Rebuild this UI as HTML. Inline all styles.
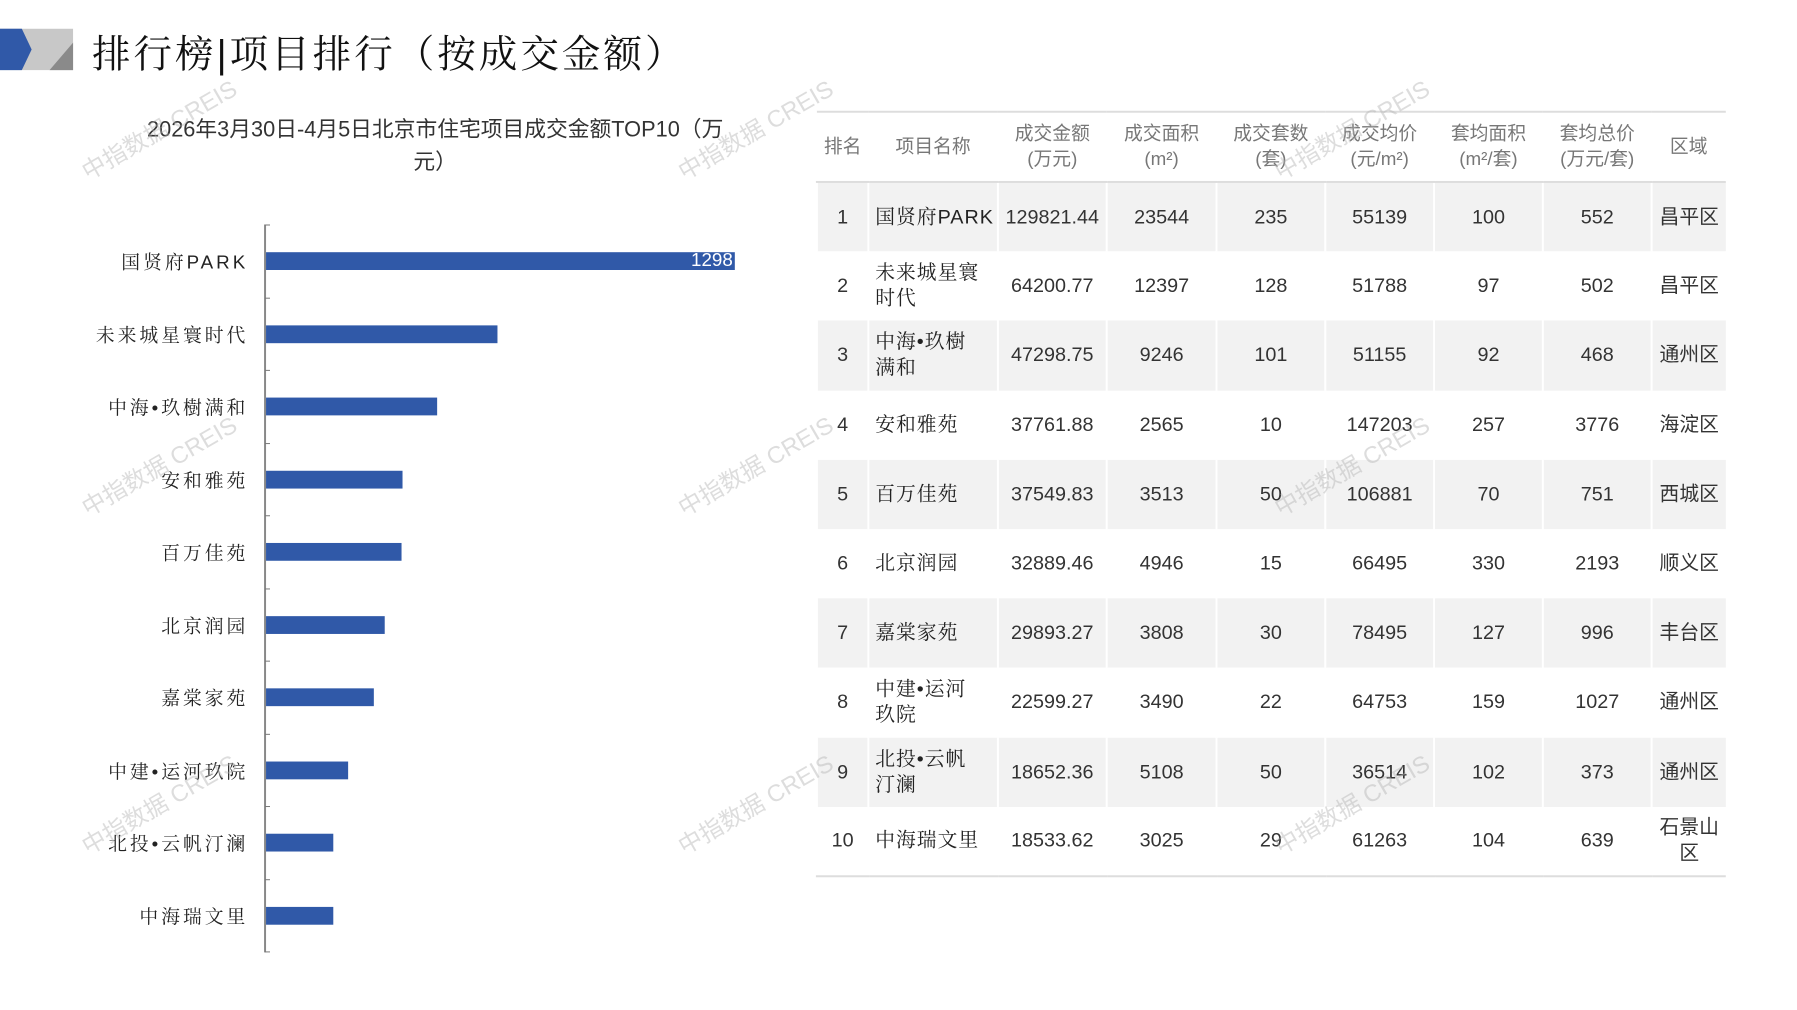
<!DOCTYPE html>
<html><head><meta charset="utf-8"><style>
*{margin:0;padding:0;box-sizing:border-box}
body{width:1797px;height:1010px;background:#fff;position:relative;overflow:hidden;font-family:"Liberation Sans","Noto Sans CJK SC",sans-serif;color:#222}
#w{position:absolute;left:0;top:0;width:1817px;height:1021px;transform:scale(0.989);transform-origin:0 0}
.abs{position:absolute}
.title{left:93px;top:24px;font-size:39px;letter-spacing:3px;color:#111;white-space:nowrap;font-family:"Liberation Sans","Noto Serif CJK SC",serif}
.ct{left:80px;width:720px;top:114px;text-align:center;font-size:22px;line-height:33px;color:#333}
.lab{position:absolute;right:1566px;font-size:19px;color:#222;white-space:nowrap;transform:translateY(-50%);letter-spacing:3px;font-family:"Liberation Sans","Noto Serif CJK SC",serif}
.bar{position:absolute;left:269px;height:18px;background:#3059a8}
.tick{position:absolute;left:268px;width:5px;height:1px;background:#777}
table{position:absolute;left:825px;top:112px;width:919px;border-collapse:collapse;table-layout:fixed;font-size:20px}
th{height:71px;font-weight:normal;color:#777;font-size:19px;line-height:26px;border-top:2px solid #ddd;border-bottom:2px solid #ddd}
td{height:70.2px;text-align:center;color:#333;line-height:26px;border-left:2px solid #fff}
td.n{text-align:left;padding-left:6px;padding-right:0;color:#222;font-family:"Liberation Sans","Noto Serif CJK SC",serif;letter-spacing:1px;white-space:nowrap}
tr.g td{background:#f2f2f2}
tbody tr:last-child td{border-bottom:2px solid #ddd}
.wm{position:absolute;font-size:24px;color:rgba(180,180,180,0.45);transform:rotate(-30deg);white-space:nowrap}
</style></head><body><div id="w">
<svg class="abs" style="left:0;top:29px" width="74" height="42"><rect x="0" y="0" width="74" height="42" fill="#c8c8c8"/><polygon points="0,0 22,0 32,21 22,42 0,42" fill="#3059a8"/><polygon points="50,42 74,14 74,42" fill="#8a8a8a"/></svg>
<div class="abs title">排行榜|项目排行（按成交金额）</div>
<div class="abs ct">2026年3月30日-4月5日北京市住宅项目成交金额TOP10（万<br>元）</div>
<div class="abs" style="left:267px;top:227px;width:2px;height:736px;background:#888"></div>
<div class="tick" style="top:227px"></div><div class="tick" style="top:301px"></div><div class="tick" style="top:374px"></div><div class="tick" style="top:448px"></div><div class="tick" style="top:521px"></div><div class="tick" style="top:595px"></div><div class="tick" style="top:668px"></div><div class="tick" style="top:742px"></div><div class="tick" style="top:815px"></div><div class="tick" style="top:889px"></div><div class="tick" style="top:962px"></div>
<div class="bar" style="top:255px;width:474px"><span style="position:absolute;right:2px;top:-2px;color:#fff;font-size:19px">1298</span></div>
<div class="bar" style="top:329px;width:234px"></div>
<div class="bar" style="top:402px;width:173px"></div>
<div class="bar" style="top:476px;width:138px"></div>
<div class="bar" style="top:549px;width:137px"></div>
<div class="bar" style="top:623px;width:120px"></div>
<div class="bar" style="top:696px;width:109px"></div>
<div class="bar" style="top:770px;width:83px"></div>
<div class="bar" style="top:843px;width:68px"></div>
<div class="bar" style="top:917px;width:68px"></div>
<div class="lab" style="top:264px">国贤府PARK</div>
<div class="lab" style="top:338px">未来城星寰时代</div>
<div class="lab" style="top:411px">中海•玖樹满和</div>
<div class="lab" style="top:485px">安和雅苑</div>
<div class="lab" style="top:558px">百万佳苑</div>
<div class="lab" style="top:632px">北京润园</div>
<div class="lab" style="top:705px">嘉棠家苑</div>
<div class="lab" style="top:779px">中建•运河玖院</div>
<div class="lab" style="top:852px">北投•云帆汀澜</div>
<div class="lab" style="top:926px">中海瑞文里</div>
<table>
<colgroup><col style="width:52px"><col style="width:131px"><col style="width:110px"><col style="width:111px"><col style="width:110px"><col style="width:110px"><col style="width:110px"><col style="width:110px"><col style="width:75px"></colgroup>
<thead><tr><th>排名</th><th>项目名称</th><th>成交金额<br>(万元)</th><th>成交面积<br>(m²)</th><th>成交套数<br>(套)</th><th>成交均价<br>(元/m²)</th><th>套均面积<br>(m²/套)</th><th>套均总价<br>(万元/套)</th><th>区域</th></tr></thead>
<tbody>
<tr class="g"><td>1</td><td class="n">国贤府PARK</td><td>129821.44</td><td>23544</td><td>235</td><td>55139</td><td>100</td><td>552</td><td>昌平区</td></tr>
<tr><td>2</td><td class="n">未来城星寰<br>时代</td><td>64200.77</td><td>12397</td><td>128</td><td>51788</td><td>97</td><td>502</td><td>昌平区</td></tr>
<tr class="g"><td>3</td><td class="n">中海•玖樹<br>满和</td><td>47298.75</td><td>9246</td><td>101</td><td>51155</td><td>92</td><td>468</td><td>通州区</td></tr>
<tr><td>4</td><td class="n">安和雅苑</td><td>37761.88</td><td>2565</td><td>10</td><td>147203</td><td>257</td><td>3776</td><td>海淀区</td></tr>
<tr class="g"><td>5</td><td class="n">百万佳苑</td><td>37549.83</td><td>3513</td><td>50</td><td>106881</td><td>70</td><td>751</td><td>西城区</td></tr>
<tr><td>6</td><td class="n">北京润园</td><td>32889.46</td><td>4946</td><td>15</td><td>66495</td><td>330</td><td>2193</td><td>顺义区</td></tr>
<tr class="g"><td>7</td><td class="n">嘉棠家苑</td><td>29893.27</td><td>3808</td><td>30</td><td>78495</td><td>127</td><td>996</td><td>丰台区</td></tr>
<tr><td>8</td><td class="n">中建•运河<br>玖院</td><td>22599.27</td><td>3490</td><td>22</td><td>64753</td><td>159</td><td>1027</td><td>通州区</td></tr>
<tr class="g"><td>9</td><td class="n">北投•云帆<br>汀澜</td><td>18652.36</td><td>5108</td><td>50</td><td>36514</td><td>102</td><td>373</td><td>通州区</td></tr>
<tr><td>10</td><td class="n">中海瑞文里</td><td>18533.62</td><td>3025</td><td>29</td><td>61263</td><td>104</td><td>639</td><td>石景山<br>区</td></tr>
</tbody></table>
<div class="wm" style="left:72px;top:112px">中指数据 CREIS</div>
<div class="wm" style="left:675px;top:112px">中指数据 CREIS</div>
<div class="wm" style="left:1278px;top:112px">中指数据 CREIS</div>
<div class="wm" style="left:72px;top:452px">中指数据 CREIS</div>
<div class="wm" style="left:675px;top:452px">中指数据 CREIS</div>
<div class="wm" style="left:1278px;top:452px">中指数据 CREIS</div>
<div class="wm" style="left:72px;top:794px">中指数据 CREIS</div>
<div class="wm" style="left:675px;top:794px">中指数据 CREIS</div>
<div class="wm" style="left:1278px;top:794px">中指数据 CREIS</div>
</div></body></html>
